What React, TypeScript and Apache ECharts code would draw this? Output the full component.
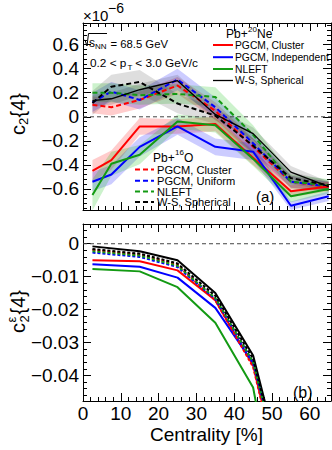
import React, { useEffect, useRef } from 'react';
import * as echarts from 'echarts';

const FONT = '"Liberation Sans", Arial, Helvetica, sans-serif';

// ---------------- Data ----------------
const centralityA = [2.5, 7.5, 15, 25, 35, 45, 55, 65];
const centralityB = [2.5, 15, 25, 35, 45, 55];

const labelsNe = ['PGCM, Cluster', 'PGCM, Independent', 'NLEFT', 'W-S, Spherical'];
const labelsO = ['PGCM, Cluster', 'PGCM, Uniform', 'NLEFT', 'W-S, Spherical'];

// Panel (a): c2{4} in units of 1e-6 — Pb+20Ne (solid)
const neClusterA = [-0.45, -0.36, -0.08, -0.08, -0.06, -0.34, -0.62, -0.58];
const neIndepA = [-0.54, -0.48, -0.25, -0.08, -0.25, -0.29, -0.74, -0.66];
const neNleftA = [-0.65, -0.39, -0.315, -0.04, -0.07, -0.35, -0.66, -0.6];
const neWsA = [0.135, 0.15, 0.225, 0.3, 0.02, -0.14, -0.46, -0.58];
const neClusterErr = [0.09, 0.08, 0.07, 0.06, 0.06, 0.06, 0.05, 0.04];
const neIndepErr = [0.08, 0.08, 0.08, 0.07, 0.07, 0.07, 0.035, 0.04];
const neNleftErr = [0.13, 0.1, 0.08, 0.06, 0.06, 0.06, 0.05, 0.04];
const neWsErr = [0.05, 0.05, 0.05, 0.05, 0.05, 0.05, 0.05, 0.04];

// Panel (a): Pb+16O (dashed)
const oClusterA = [0.1, 0.08, 0.14, 0.26, 0.05, -0.25, -0.54, -0.58];
const oUniformA = [0.12, 0.21, 0.14, 0.31, 0.08, -0.22, -0.54, -0.58];
const oNleftA = [0.2, 0.2, 0.18, 0.19, 0.165, -0.15, -0.54, -0.57];
const oWsA = [0.115, 0.25, 0.29, 0.11, 0.01, -0.24, -0.51, -0.57];
const oClusterErr = [0.07, 0.07, 0.07, 0.07, 0.07, 0.07, 0.05, 0.04];
const oUniformErr = [0.08, 0.08, 0.08, 0.09, 0.08, 0.08, 0.05, 0.04];
const oNleftErr = [0.08, 0.08, 0.08, 0.08, 0.08, 0.08, 0.06, 0.05];
const oWsErr = [0.1, 0.1, 0.1, 0.08, 0.07, 0.06, 0.05, 0.04];

// Panel (b): c2^eps{4}
const neClusterB = [-0.005, -0.0053, -0.0081, -0.0172, -0.037, -0.085];
const neIndepB = [-0.0062, -0.007, -0.0103, -0.0195, -0.0363, -0.079];
const neNleftB = [-0.0077, -0.0084, -0.0132, -0.024, -0.0437, -0.105];
const neWsB = [-0.0008, -0.0023, -0.005, -0.015, -0.034, -0.079];
const oClusterB = [-0.0019, -0.0033, -0.0064, -0.0172, -0.0375, -0.085];
const oUniformB = [-0.0027, -0.004, -0.0071, -0.0168, -0.036, -0.082];
const oNleftB = [-0.0023, -0.0036, -0.0067, -0.0165, -0.036, -0.082];
const oWsB = [-0.0016, -0.003, -0.006, -0.0158, -0.035, -0.08];

// Tick labels
const xTicks = [0, 10, 20, 30, 40, 50, 60];
const yTicksA = [-0.6, -0.4, -0.2, 0, 0.2, 0.4, 0.6];
const yTicksB = [-0.04, -0.03, -0.02, -0.01, 0];

// ---------------- Style ----------------
const colors = ['#ff0000', '#0000ff', '#139a13', '#000000'];
const bandColors = ['rgba(255,0,0,0.2)', 'rgba(0,0,255,0.2)', 'rgba(0,190,0,0.2)', 'rgba(0,0,0,0.13)'];

const X_MIN = 0;
const X_MAX = 65.6;
const YA_MIN = -0.775;
const YA_MAX = 0.78;
const YB_MIN = -0.0478;
const YB_MAX = 0.006;

const grids = [
  { left: 83, top: 23, width: 248, height: 187 },
  { left: 83, top: 224, width: 248, height: 177 },
];

function steps(min: number, max: number, step: number): number[] {
  const out: number[] = [];
  const k0 = Math.ceil(min / step - 1e-9);
  const k1 = Math.floor(max / step + 1e-9);
  for (let k = k0; k <= k1; k++) out.push(Math.round(k * step * 1e7) / 1e7);
  return out;
}

const minus = (s: string) => s.replace('-', '\u2212');

function makeAxis(
  gridIndex: number,
  position: string,
  min: number,
  max: number,
  values: number[],
  len: number,
  showLine: boolean,
  fmt: ((v: number) => string) | null
) {
  return {
    type: 'value',
    gridIndex,
    position,
    min,
    max,
    axisLine: { show: showLine, onZero: false, lineStyle: { color: '#000', width: 1 } },
    axisTick: {
      show: true,
      inside: true,
      length: len,
      customValues: values,
      lineStyle: { color: '#000', width: 1 },
    },
    axisLabel: fmt
      ? {
          show: true,
          customValues: values,
          formatter: fmt,
          fontSize: 19,
          fontFamily: FONT,
          color: '#000',
          margin: position === 'left' ? 4 : 3,
        }
      : { show: false },
    splitLine: { show: false },
    minorTick: { show: false },
  };
}

const fmtA = (v: number) => (Math.abs(v) < 1e-9 ? '0' : minus(v.toFixed(1)));
const fmtB = (v: number) => (Math.abs(v) < 1e-9 ? '0' : minus(v.toFixed(2)));
const fmtX = (v: number) => String(Math.round(v));

function buildAxes() {
  const xMinor = steps(X_MIN, X_MAX, 2);
  const xAxes: any[] = [];
  const yAxes: any[] = [];
  [0, 1].forEach((g) => {
    xAxes.push(makeAxis(g, 'bottom', X_MIN, X_MAX, xTicks, 8, true, g === 1 ? fmtX : null));
    xAxes.push(makeAxis(g, 'bottom', X_MIN, X_MAX, xMinor, 4, false, null));
    xAxes.push(makeAxis(g, 'top', X_MIN, X_MAX, xTicks, 8, true, null));
    xAxes.push(makeAxis(g, 'top', X_MIN, X_MAX, xMinor, 4, false, null));
    const ymin = g === 0 ? YA_MIN : YB_MIN;
    const ymax = g === 0 ? YA_MAX : YB_MAX;
    const major = g === 0 ? yTicksA : yTicksB;
    const minor = g === 0 ? steps(ymin, ymax, 0.04) : steps(ymin, ymax, 0.002);
    yAxes.push(makeAxis(g, 'left', ymin, ymax, major, 8, true, g === 0 ? fmtA : fmtB));
    yAxes.push(makeAxis(g, 'left', ymin, ymax, minor, 4, false, null));
    yAxes.push(makeAxis(g, 'right', ymin, ymax, major, 8, true, null));
    yAxes.push(makeAxis(g, 'right', ymin, ymax, minor, 4, false, null));
  });
  return { xAxes, yAxes };
}

function lineSeries(
  name: string,
  xs: number[],
  ys: number[],
  color: string,
  width: number,
  type: any,
  axisIndex: number
) {
  return {
    type: 'line',
    name,
    xAxisIndex: axisIndex,
    yAxisIndex: axisIndex,
    data: xs.map((x, i) => [x, ys[i]]),
    showSymbol: false,
    symbol: 'none',
    silent: true,
    z: 3,
    lineStyle: { color, width, type, cap: 'butt' },
  };
}

function bandSeries(xs: number[], ys: number[], err: number[], fill: string, axisIndex: number) {
  return {
    type: 'custom',
    xAxisIndex: axisIndex,
    yAxisIndex: axisIndex,
    silent: true,
    z: 1,
    data: [[xs[0], ys[0]]],
    renderItem: (_p: any, api: any) => {
      const up = xs.map((x, i) => api.coord([x, ys[i] + err[i]]));
      const lo = xs.map((x, i) => api.coord([x, ys[i] - err[i]])).reverse();
      return { type: 'polygon', shape: { points: up.concat(lo) }, style: { fill, stroke: 'none' } };
    },
  };
}

function txt(x: number, y: number, text: string, size: number, align = 'left', lh?: number) {
  return {
    type: 'text',
    x,
    y,
    silent: true,
    style: {
      text,
      fontSize: size,
      fontFamily: FONT,
      fill: '#000',
      align,
      verticalAlign: 'middle',
      textAlign: align,
      textVerticalAlign: 'middle',
      lineHeight: lh ?? Math.round(size),
    },
  };
}

function buildGraphics() {
  const g: any[] = [];
  // ×10^-6
  g.push(txt(83, 15, '\u00d710', 15, 'left', 14));
  g.push(txt(108, 8, '\u22126', 14, 'left', 12));
  // sqrt(s_NN) = 68.5 GeV
  g.push({
    type: 'polyline',
    silent: true,
    shape: { points: [[83.5, 41], [85, 40], [87, 46], [88.5, 33.5], [107, 33.5]] },
    style: { stroke: '#000', lineWidth: 1, fill: 'none' },
  });
  g.push(txt(89, 42.5, 's', 12, 'left', 10));
  g.push(txt(95, 46.5, 'NN', 8, 'left', 7));
  g.push(txt(110.5, 44, '= 68.5 GeV', 11.3, 'left', 10));
  // 0.2 < pT < 3.0 GeV/c
  g.push(txt(90, 63, '0.2 < p', 11.8, 'left', 10));
  g.push(txt(127.5, 67, 'T', 8, 'left', 6));
  g.push(txt(132, 63, ' < 3.0 GeV/c', 11.8, 'left', 10));
  // Pb+Ne legend
  g.push(txt(226, 34, 'Pb+', 12, 'left', 10));
  g.push(txt(248, 29, '20', 8, 'left', 7));
  g.push(txt(257, 34, 'Ne', 12, 'left', 10));
  const neRows = [45, 57.2, 69, 80.5];
  labelsNe.forEach((l, i) => {
    g.push({
      type: 'line',
      silent: true,
      shape: { x1: 213, y1: neRows[i], x2: 233, y2: neRows[i] },
      style: { stroke: colors[i], lineWidth: i === 3 ? 1.3 : 2 },
    });
    g.push(txt(235, neRows[i], l, 10.3, 'left', 9));
  });
  // Pb+O legend
  g.push(txt(153, 157.5, 'Pb+', 12, 'left', 10));
  g.push(txt(175, 152.5, '16', 8, 'left', 7));
  g.push(txt(184, 157.5, 'O', 12, 'left', 10));
  const oRows = [169.5, 180.8, 191.5, 202];
  labelsO.forEach((l, i) => {
    g.push({
      type: 'line',
      silent: true,
      shape: { x1: 135, y1: oRows[i], x2: 154, y2: oRows[i] },
      style: { stroke: colors[i], lineWidth: 2, lineDash: [5, 3] },
    });
    g.push(txt(157, oRows[i], l, 11.1, 'left', 9.5));
  });
  // panel tags
  g.push(txt(256, 196, '(a)', 15, 'left', 14));
  g.push(txt(293, 392, '(b)', 16, 'left', 15));
  // x title
  g.push(txt(206.5, 434, 'Centrality [%]', 19, 'center'));
  // y title (a)
  g.push({
    type: 'group',
    x: 18,
    y: 135,
    rotation: Math.PI / 2,
    children: [txt(0, 0, 'c', 20), txt(10, 5, '2', 13, 'left', 11), txt(17.5, 0, '{4}', 20)],
  });
  // y title (b)
  g.push({
    type: 'group',
    x: 18,
    y: 333,
    rotation: Math.PI / 2,
    children: [
      txt(0, 0, 'c', 20),
      txt(10.5, -7, '\u03b5', 13, 'left', 10),
      txt(10.5, 6, '2', 13, 'left', 10),
      txt(18.5, 0, '{4}', 20),
    ],
  });
  return g;
}

function buildOption() {
  const { xAxes, yAxes } = buildAxes();
  const series: any[] = [];
  const neA = [neClusterA, neIndepA, neNleftA, neWsA];
  const neErr = [neClusterErr, neIndepErr, neNleftErr, neWsErr];
  const oA = [oClusterA, oUniformA, oNleftA, oWsA];
  const oErr = [oClusterErr, oUniformErr, oNleftErr, oWsErr];
  const neB = [neClusterB, neIndepB, neNleftB, neWsB];
  const oB = [oClusterB, oUniformB, oNleftB, oWsB];

  // bands panel (a)
  for (let i = 0; i < 4; i++) series.push(bandSeries(centralityA, oA[i], oErr[i], bandColors[i], 0));
  for (let i = 0; i < 4; i++) series.push(bandSeries(centralityA, neA[i], neErr[i], bandColors[i], 0));

  // zero lines
  [0, 4].forEach((ai) => {
    series.push({
      type: 'line',
      xAxisIndex: ai,
      yAxisIndex: ai,
      data: [[X_MIN, 0], [X_MAX, 0]],
      showSymbol: false,
      symbol: 'none',
      silent: true,
      z: 2,
      lineStyle: { color: '#444', width: 1, type: [4, 3] },
    });
  });

  // panel (a) lines
  for (let i = 0; i < 4; i++)
    series.push(lineSeries('Pb+O ' + labelsO[i], centralityA, oA[i], colors[i], 2, [5, 3], 0));
  for (let i = 0; i < 4; i++)
    series.push(lineSeries('Pb+Ne ' + labelsNe[i], centralityA, neA[i], colors[i], i === 3 ? 1.3 : 2, 'solid', 0));

  // panel (b) lines
  for (let i = 0; i < 4; i++)
    series.push(lineSeries('Pb+Ne eps ' + labelsNe[i], centralityB, neB[i], colors[i], 2, 'solid', 4));
  for (let i = 0; i < 4; i++)
    series.push(lineSeries('Pb+O eps ' + labelsO[i], centralityB, oB[i], colors[i], 2, [3, 2], 4));

  return {
    animation: false,
    backgroundColor: '#fff',
    grid: grids,
    xAxis: xAxes,
    yAxis: yAxes,
    series,
    graphic: buildGraphics(),
  };
}

export default function App() {
  const ref = useRef<HTMLDivElement>(null);
  useEffect(() => {
    if (!ref.current) return;
    const chart = echarts.init(ref.current, undefined, { renderer: 'svg' });
    chart.setOption(buildOption() as any);
    return () => chart.dispose();
  }, []);
  return (
    <div
      ref={ref}
      style={{ position: 'absolute', left: 0, top: 0, width: 332, height: 450, background: '#fff' }}
    />
  );
}
